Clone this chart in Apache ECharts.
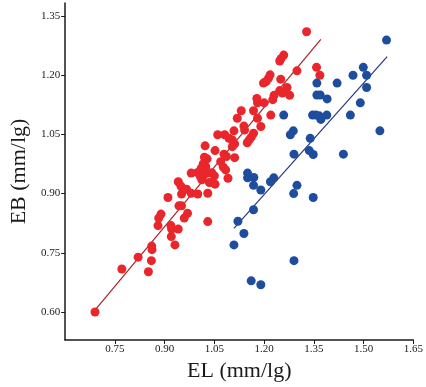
<!DOCTYPE html>
<html>
<head>
<meta charset="utf-8">
<script src="https://cdn.jsdelivr.net/npm/echarts@6/dist/echarts.min.js"></script>
<style>html,body{margin:0;padding:0;background:#fff}#c{width:426px;height:387px}</style>
</head>
<body>
<div id="c"></div>
<script>
// Group 1 (red): [EL, EB]
var redPoints = [
[0.690,0.600],[0.771,0.709],[0.820,0.739],[0.851,0.702],[0.860,0.730],[0.861,0.767],[0.862,0.758],
[0.880,0.819],[0.882,0.838],[0.889,0.848],[0.910,0.890],[0.919,0.819],[0.921,0.810],[0.920,0.791],
[0.931,0.770],[0.941,0.810],[0.943,0.869],[0.951,0.869],[0.951,0.899],[0.959,0.838],[0.969,0.850],
[0.941,0.930],[0.949,0.919],[0.966,0.911],[0.980,0.901],[1.000,0.899],[1.030,0.901],[1.030,0.829],
[0.980,0.952],[0.998,0.953],[1.008,0.943],[1.018,0.947],[1.012,0.935],[1.035,0.928],[1.052,0.924],
[1.042,0.953],[1.050,0.945],[1.016,0.975],[1.010,0.964],[1.020,0.992],[1.022,1.021],[1.052,1.009],
[1.069,0.981],[1.079,1.000],[1.086,0.994],[1.077,0.967],[1.084,0.960],[1.091,0.939],[1.060,1.049],
[1.081,1.049],[1.094,1.040],[1.104,1.036],[1.111,1.026],[1.104,1.019],[1.111,0.991],[1.109,1.059],
[1.119,1.091],[1.131,1.110],[1.139,1.071],[1.141,1.061],[1.149,1.029],[1.155,1.036],[1.161,1.043],
[1.168,1.053],[1.190,1.070],[1.180,1.091],[1.168,1.110],[1.178,1.141],[1.180,1.130],[1.200,1.130],
[1.220,1.099],[1.198,1.180],[1.206,1.184],[1.213,1.192],[1.218,1.201],[1.230,1.149],[1.226,1.138],
[1.250,1.190],[1.247,1.161],[1.255,1.155],[1.269,1.169],[1.277,1.149],[1.259,1.251],[1.251,1.242],
[1.247,1.236],[1.299,1.211],[1.328,1.310],[1.358,1.220],[1.368,1.200],[1.030,0.952],[1.024,0.968],
[1.028,0.988]
];
// Group 2 (blue): [EL, EB]
var bluePoints = [
[1.569,1.289],[1.499,1.220],[1.468,1.200],[1.509,1.200],[1.420,1.180],[1.359,1.180],[1.509,1.169],
[1.359,1.150],[1.369,1.150],[1.390,1.140],[1.490,1.130],[1.259,1.099],[1.346,1.099],[1.356,1.099],
[1.366,1.097],[1.371,1.088],[1.389,1.099],[1.460,1.099],[1.549,1.059],[1.288,1.059],[1.279,1.049],
[1.339,1.040],[1.336,1.009],[1.348,0.999],[1.290,1.000],[1.439,1.000],[1.150,0.952],[1.150,0.940],
[1.169,0.941],[1.168,0.921],[1.190,0.909],[1.219,0.930],[1.229,0.940],[1.299,0.921],[1.289,0.900],
[1.348,0.890],[1.168,0.859],[1.121,0.830],[1.139,0.799],[1.109,0.770],[1.290,0.730],[1.161,0.679],
[1.190,0.669]
];
// Fitted lines (endpoints)
var redFit = [[0.690,0.605],[1.371,1.291]];
var blueFit = [[1.109,0.812],[1.571,1.247]];
// Tick labels
var xTicks = [0.75, 0.90, 1.05, 1.20, 1.35, 1.50, 1.65];
var yTicks = [0.60, 0.75, 0.90, 1.05, 1.20, 1.35];

var serif = '"Liberation Serif","DejaVu Serif",serif';
var chart = echarts.init(document.getElementById('c'), null, {renderer:'canvas'});
var axisCommon = {
  axisLine: {show:true, onZero:false, lineStyle:{color:'#1a1a1a', width:1.5}},
  axisTick: {show:true, inside:false, length:4, lineStyle:{color:'#1a1a1a', width:1}},
  splitLine: {show:false},
  nameLocation: 'middle',
  nameTextStyle: {fontFamily: serif, fontSize: 22, color:'#1a1a1a'}
};
chart.setOption({
  animation: false,
  backgroundColor: '#ffffff',
  grid: {left:62, right:9, top:3, bottom:47, containLabel:false},
  xAxis: Object.assign({}, axisCommon, {
    type:'value', min:0.6, max:1.65,
    name:'EL (mm/lg)', nameGap: 19,
    axisTick: Object.assign({}, axisCommon.axisTick, {customValues: xTicks}),
    axisLabel: {customValues: xTicks, formatter: function(v){return v.toFixed(2);}, margin:4,
      fontFamily: serif, fontSize: 11, color:'#1a1a1a'}
  }),
  yAxis: Object.assign({}, axisCommon, {
    type:'value', min:0.529, max:1.383,
    name:'EB (mm/lg)', nameGap: 35,
    axisTick: Object.assign({}, axisCommon.axisTick, {customValues: yTicks}),
    axisLabel: {customValues: yTicks, formatter: function(v){return v.toFixed(2);}, margin:5,
      fontFamily: serif, fontSize: 11, color:'#1a1a1a'}
  }),
  series: [
    {type:'line', data: redFit, symbol:'none', lineStyle:{color:'#a82228', width:1.2}, z:1},
    {type:'line', data: blueFit, symbol:'none', lineStyle:{color:'#28357f', width:1.2}, z:1},
    {type:'scatter', data: redPoints, symbolSize: 9, itemStyle:{color:'#e8262b', opacity:1}, z:2},
    {type:'scatter', data: bluePoints, symbolSize: 9, itemStyle:{color:'#1f4d9e', opacity:1}, z:2}
  ]
});
</script>
</body>
</html>
